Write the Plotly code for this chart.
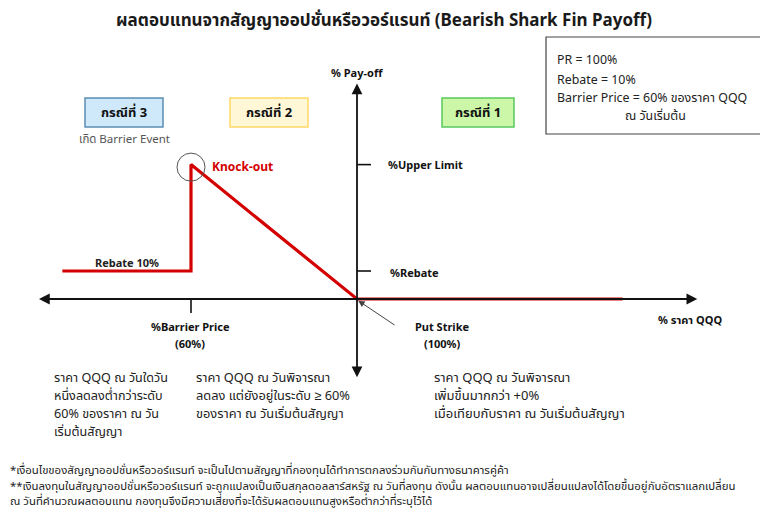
import plotly.graph_objects as go

# ---- data ----
price_pct = [29, 60, 60, 100, 164]          # % of QQQ price
payoff_pct = [10, 10, 48, 0, 0]             # % pay-off
barrier_price = 60
put_strike = 100
rebate = 10
upper_limit = 48

OFF = 8                      # page body margin
W, H = 768 - OFF, 508 - OFF
PXU, PYU = 4.15, 2.8         # px per data unit
X0 = 100 - (357 - OFF) / PXU
X1 = 100 + (768 - 357) / PXU
Y1 = (299 - OFF) / PYU
Y0 = -(508 - 299) / PYU

FONT = "Noto Sans, Noto Sans Thai, sans-serif"

def P(px, py):
    return (px - OFF) / W, 1 - (py - OFF) / H

fig = go.Figure()
fig.add_trace(go.Scatter(x=price_pct, y=payoff_pct, mode="lines",
                         line=dict(color="#d40000", width=3.2),
                         hoverinfo="skip", showlegend=False))

ann = []
shapes = []

# axes with arrows
ann.append(dict(x=182, y=0, ax=23, ay=0, xref="x", yref="y", axref="x", ayref="y",
                text="", showarrow=True, arrowhead=2, arrowsize=1.2, arrowwidth=1.8,
                arrowside="end+start", arrowcolor="#111"))
ann.append(dict(x=put_strike, y=77, ax=put_strike, ay=-28.5, xref="x", yref="y", axref="x", ayref="y",
                text="", showarrow=True, arrowhead=2, arrowsize=1.2, arrowwidth=1.8,
                arrowside="end+start", arrowcolor="#111"))

# ticks
tick_x = 14 / PXU
tick_y = 14 / PYU
for yv in (upper_limit, rebate):
    shapes.append(dict(type="line", xref="x", yref="y", x0=put_strike, x1=put_strike + tick_x,
                       y0=yv, y1=yv, line=dict(color="#111", width=1.6)))
shapes.append(dict(type="line", xref="x", yref="y", x0=barrier_price, x1=barrier_price,
                   y0=0, y1=-tick_y, line=dict(color="#111", width=1.6)))

# knock-out circle
rx, ry = 14 / PXU, 14 / PYU
cy = 47.1
shapes.append(dict(type="circle", xref="x", yref="y", x0=barrier_price - rx, x1=barrier_price + rx,
                   y0=cy - ry, y1=cy + ry, line=dict(color="#555", width=1)))

# put strike pointer
ann.append(dict(x=put_strike + 0.3, y=-0.6, ax=put_strike + 39 / PXU, ay=-27 / PYU,
                xref="x", yref="y", axref="x", ayref="y", text="", showarrow=True,
                arrowhead=2, arrowsize=1.3, arrowwidth=1, arrowcolor="#444"))

def txt(px, py, s, size=12, color="#222", xanchor="left", bold=False, yanchor="middle"):
    x, y = P(px, py)
    if bold:
        s = "<b>" + s + "</b>"
    ann.append(dict(x=x, y=y, xref="paper", yref="paper", text=s, showarrow=False,
                    xanchor=xanchor, yanchor=yanchor,
                    font=dict(family=FONT, size=size, color=color)))

def box(x0, y0, x1, y1, fill, border, width=1.5):
    a, b = P(x0, y0)
    c, d = P(x1, y1)
    shapes.append(dict(type="rect", xref="paper", yref="paper", x0=a, y0=d, x1=c, y1=b,
                       fillcolor=fill, line=dict(color=border, width=width), layer="below"))

# title
txt(384, 19, "ผลตอบแทนจากสัญญาออปชั่นหรือวอร์แรนท์ (Bearish Shark Fin Payoff)", size=17,
    color="#1a1a1a", xanchor="center", bold=True)

# info box
box(546, 37, 762, 134, "white", "#444", 1.2)
txt(555, 60, "PR = 100%", size=12.4)
txt(555, 79, "Rebate = 10%", size=12.4)
txt(555, 98, "Barrier Price = 60% ของราคา QQQ", size=12.4)
txt(655, 116, "ณ วันเริ่มต้น", size=12.4, xanchor="center")

# case boxes
box(85, 98, 163, 127, "#cfe9fa", "#5b8db2")
txt(124, 112, "กรณีที่ 3", size=13, color="#111", xanchor="center", bold=True)
txt(124, 138, "เกิด Barrier Event", size=11.5, color="#555", xanchor="center")
box(230, 98, 308, 127, "#fff7d6", "#ffd966")
txt(269, 112, "กรณีที่ 2", size=13, color="#111", xanchor="center", bold=True)
box(442, 98, 514, 127, "#ccf7a8", "#58c95c")
txt(478, 112, "กรณีที่ 1", size=13, color="#111", xanchor="center", bold=True)

# axis labels
txt(357, 72, "% Pay-off", size=11, color="#111", xanchor="center", bold=True)
txt(386, 164, "%Upper Limit", size=11, color="#111", bold=True)
txt(388, 272, "%Rebate", size=11, color="#111", bold=True)
txt(127, 262, "Rebate 10%", size=11, color="#222", xanchor="center", bold=True)
txt(210, 166, "Knock-out", size=12, color="#d40000", bold=True)
txt(190, 326, "%Barrier Price", size=11, color="#111", xanchor="center", bold=True)
txt(190, 343, "(60%)", size=11, color="#111", xanchor="center", bold=True)
txt(442, 326, "Put Strike", size=11, color="#111", xanchor="center", bold=True)
txt(442, 343, "(100%)", size=11, color="#111", xanchor="center", bold=True)
txt(690, 319, "% ราคา QQQ", size=11, color="#111", xanchor="center", bold=True)

# case descriptions
for i, s in enumerate(["ราคา QQQ ณ วันใดวัน", "หนึ่งลดลงต่ำกว่าระดับ",
                       "60% ของราคา ณ วัน", "เริ่มต้นสัญญา"]):
    txt(52, 377 + 18 * i, s, size=12.6)
for i, s in enumerate(["ราคา QQQ ณ วันพิจารณา", "ลดลง แต่ยังอยู่ในระดับ ≥ 60%",
                       "ของราคา ณ วันเริ่มต้นสัญญา"]):
    txt(194, 377 + 18 * i, s, size=12.8)
for i, s in enumerate(["ราคา QQQ ณ วันพิจารณา", "เพิ่มขึ้นมากกว่า +0%",
                       "เมื่อเทียบกับราคา ณ วันเริ่มต้นสัญญา"]):
    txt(432, 377 + 18 * i, s, size=13)

# footnotes
txt(8, 469, "*เงื่อนไขของสัญญาออปชั่นหรือวอร์แรนท์ จะเป็นไปตามสัญญาที่กองทุนได้ทำการตกลงร่วมกันกับทางธนาคารคู่ค้า", size=11.4)
txt(8, 485, "**เงินลงทุนในสัญญาออปชั่นหรือวอร์แรนท์ จะถูกแปลงเป็นเงินสกุลดอลลาร์สหรัฐ ณ วันที่ลงทุน ดังนั้น ผลตอบแทนอาจเปลี่ยนแปลงได้โดยขึ้นอยู่กับอัตราแลกเปลี่ยน", size=11.4)
txt(8, 500, "ณ วันที่คำนวณผลตอบแทน กองทุนจึงมีความเสี่ยงที่จะได้รับผลตอบแทนสูงหรือต่ำกว่าที่ระบุไว้ได้", size=11.4)

fig.update_layout(
    width=W, height=H, margin=dict(l=0, r=0, t=0, b=0),
    paper_bgcolor="white", plot_bgcolor="white",
    xaxis=dict(range=[X0, X1], visible=False, fixedrange=True),
    yaxis=dict(range=[Y0, Y1], visible=False, fixedrange=True),
    annotations=ann, shapes=shapes, showlegend=False,
)
fig.write_html("out.html")
